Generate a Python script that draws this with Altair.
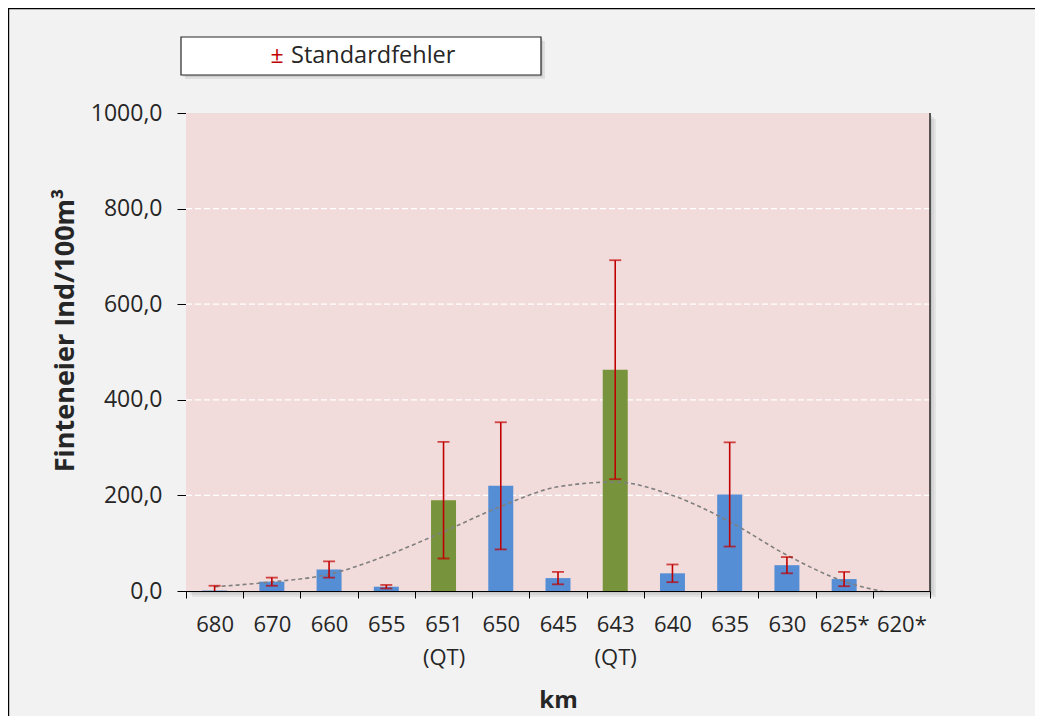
import altair as alt
import pandas as pd

# ---- data ----
categories = ["680", "670", "660", "655", "651 (QT)", "650", "645", "643 (QT)",
              "640", "635", "630", "625*", "620*"]
station_type = ["Strom", "Strom", "Strom", "Strom", "QT", "Strom", "Strom", "QT",
                "Strom", "Strom", "Strom", "Strom", "Strom"]
values = [1, 19.5, 45, 9, 190, 220, 27, 463, 37, 202, 54, 25, None]
std_errors = [10, 8.5, 17, 3.7, 122, 133, 13, 229, 18.5, 109, 17, 15, None]
trend = [9, 19, 35, 74, 124, 177, 218, 228, 200, 145, 75, 20, -8]
y_ticks = [0, 200, 400, 600, 800, 1000]
grid_values = [200, 400, 600, 800]
legend_label = "Standardfehler"

# ---- layout ----
W, H = 744, 478
PAD_L, PAD_T, PAD_R, PAD_B = 178, 105, 105, 125
FONT = "Open Sans"
TXT = "#262626"

lo = [None if v is None else v - e for v, e in zip(values, std_errors)]
hi = [None if v is None else v + e for v, e in zip(values, std_errors)]
df = pd.DataFrame({"km": categories, "typ": station_type, "value": values,
                   "lo": lo, "hi": hi, "trend": trend})
grid_df = pd.DataFrame({"g": grid_values})
one = alt.Data(values=[{"a": 1}])

xscale = alt.Scale(domain=categories, paddingInner=0, paddingOuter=0)
yscale = alt.Scale(domain=[0, 1000], nice=False)

xaxis = alt.Axis(title="km", labelAngle=0, tickBand="extent", labelFont=FONT,
                 labelFontSize=22, labelColor=TXT, labelPadding=16,
                 labelExpr="split(datum.label, ' ')", labelLineHeight=33,
                 tickSize=7, tickColor="black", domainColor="black",
                 titleFont=FONT, titleFontSize=24, titleFontWeight="bold",
                 titleColor=TXT, titleY=109, titleBaseline="middle", grid=False)
yaxis = alt.Axis(title="Finteneier Ind/100m³", values=y_ticks,
                 labelExpr="replace(format(datum.value, '.1f'), '.', ',')",
                 labelFont=FONT, labelFontSize=23, labelColor=TXT, labelPadding=15,
                 tickSize=9, tickColor="black", domainColor="black",
                 titleFont=FONT, titleFontSize=27, titleFontWeight="bold",
                 titleColor=TXT, titleX=-121, titleY=217, titleAngle=-90,
                 titleAlign="center", titleBaseline="middle", grid=False)

X = alt.X("km:N", scale=xscale, axis=xaxis, sort=categories)

# outer chart border (left and top)
border_left = alt.Chart(one).mark_rule(color="black", strokeWidth=1.2).encode(
    x=alt.value(-PAD_L + 0.6), y=alt.value(-PAD_T), y2=alt.value(H + PAD_B))
border_top = alt.Chart(one).mark_rule(color="black", strokeWidth=1.2).encode(
    y=alt.value(-PAD_T + 0.6), x=alt.value(-PAD_L), x2=alt.value(W + PAD_R))

# plot-area shadow + background
shadows = [
    alt.Chart(one).mark_rect(color="#000000", opacity=0.06).encode(
        x=alt.value(d), x2=alt.value(W + d), y=alt.value(d), y2=alt.value(H + d))
    for d in (2, 4, 6)
]
plot_bg = alt.Chart(one).mark_rect(color="#f2dcdb").encode(
    x=alt.value(0), x2=alt.value(W), y=alt.value(0), y2=alt.value(H))

grid = alt.Chart(grid_df).mark_rule(color="white", strokeWidth=1.2,
                                    strokeDash=[6, 3]).encode(
    y=alt.Y("g:Q", scale=yscale, axis=yaxis), x=alt.value(0), x2=alt.value(W))

bars = alt.Chart(df).mark_bar(size=25).encode(
    x=X,
    y=alt.Y("value:Q", scale=yscale, axis=yaxis),
    color=alt.Color("typ:N", scale=alt.Scale(domain=["Strom", "QT"],
                                             range=["#558ed5", "#77933c"]),
                    legend=None),
)

trend_line = alt.Chart(df).mark_line(color="#7f7f7f", strokeWidth=1.6,
                                     strokeDash=[4, 3], interpolate="monotone",
                                     clip=True).encode(
    x=X, y=alt.Y("trend:Q", scale=yscale, axis=yaxis))

err_rule = alt.Chart(df).mark_rule(color="#c00000", strokeWidth=1.6, clip=True).encode(
    x=X, y=alt.Y("lo:Q", scale=yscale, axis=yaxis), y2="hi:Q")
cap_hi = alt.Chart(df).mark_tick(color="#c00000", size=12, thickness=1.8,
                                 clip=True).encode(
    x=X, y=alt.Y("hi:Q", scale=yscale, axis=yaxis))
cap_lo = alt.Chart(df).mark_tick(color="#c00000", size=12, thickness=1.8,
                                 clip=True).encode(
    x=X, y=alt.Y("lo:Q", scale=yscale, axis=yaxis))

right_edge = alt.Chart(one).mark_rule(color="#262626", strokeWidth=1.5).encode(
    x=alt.value(W), y=alt.value(0), y2=alt.value(H))

# legend box
LX0, LX1, LY0, LY1 = -5, 355, -76, -38
leg_shadow = [
    alt.Chart(one).mark_rect(color="#000000", opacity=0.08).encode(
        x=alt.value(LX0 + d), x2=alt.value(LX1 + d),
        y=alt.value(LY0 + d), y2=alt.value(LY1 + d))
    for d in (2, 4)
]
leg_box = alt.Chart(one).mark_rect(fill="white", stroke="#262626",
                                   strokeWidth=1.2).encode(
    x=alt.value(LX0), x2=alt.value(LX1), y=alt.value(LY0), y2=alt.value(LY1))
leg_sym = alt.Chart(one).mark_text(text="±", color="#c00000", font=FONT,
                                   fontSize=23, align="center",
                                   baseline="middle").encode(
    x=alt.value(91), y=alt.value(-57))
leg_txt = alt.Chart(one).mark_text(text=legend_label, color=TXT, font=FONT,
                                   fontSize=23.5, align="left",
                                   baseline="middle").encode(
    x=alt.value(105), y=alt.value(-57))

chart = alt.layer(
    border_left, border_top, *shadows, plot_bg, grid, bars, trend_line,
    err_rule, cap_hi, cap_lo, right_edge, *leg_shadow, leg_box, leg_sym, leg_txt
).properties(
    width=W, height=H,
    autosize=alt.AutoSizeParams(type="none"),
    padding={"left": PAD_L, "top": PAD_T, "right": PAD_R, "bottom": PAD_B},
    background="#f2f2f2",
).configure_view(stroke=None)

chart.save("out.html", embed_options={"renderer": "svg", "actions": False})
